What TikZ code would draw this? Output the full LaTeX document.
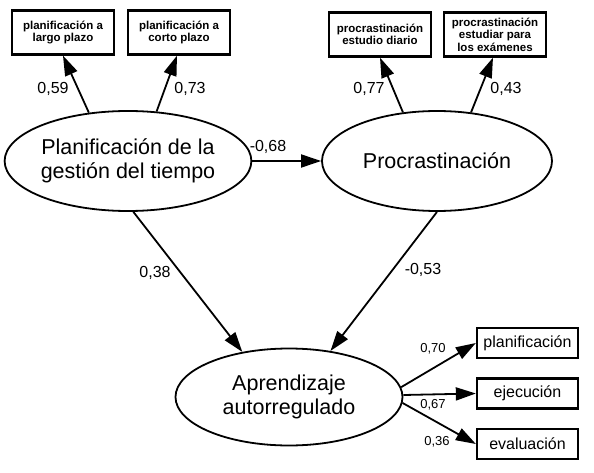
\documentclass[tikz,border=0pt]{standalone}
\usepackage{fontspec}
\setmainfont{Liberation Sans}
\usetikzlibrary{arrows.meta,shapes.geometric}

\begin{document}
\begin{tikzpicture}[x=1pt, y=-1pt,
    latent/.style={ellipse, draw=black, line width=1.8pt, inner sep=0pt,
        align=center, font=\fontsize{21.5}{23.5}\selectfont},
    indicator/.style={rectangle, draw=black, line width=2.3pt, inner sep=0pt,
        minimum width=102pt, minimum height=44pt, align=center,
        font=\fontsize{11.5}{12.5}\selectfont\bfseries},
    subscale/.style={rectangle, draw=black, line width=2.3pt, inner sep=0pt,
        minimum width=101pt, minimum height=30pt, font=\fontsize{16}{18}\selectfont},
    loading/.style={inner sep=0pt, font=\fontsize{16}{18}\selectfont},
    smallloading/.style={inner sep=0pt, font=\fontsize{13}{15}\selectfont},
    effect/.style={-{Triangle[length=20pt, width=13pt]}, line width=1.8pt}
    ]
    \useasboundingbox (0,0) rectangle (594,473);

    % latent factors
    \node (PGT) [latent, minimum width=232pt, minimum height=100pt] at (128,161)
        {Planificación de la\\gestión del tiempo};
    \node (PRO) [latent, minimum width=230pt, minimum height=100pt] at (437,161)
        {Procrastinación};
    \node (ARA) [latent, minimum width=227pt, minimum height=97pt] at (289,397)
        {Aprendizaje\\autorregulado};

    % indicators
    \node (LP) [indicator] at (63,32.5) {planificación a\\largo plazo};
    \node (CP) [indicator] at (179,32.5) {planificación a\\corto plazo};
    \node (ED) [indicator] at (380,34.5) {procrastinación\\estudio diario};
    \node (EE) [indicator] at (495,34.5) {procrastinación\\estudiar para\\los exámenes};
    \node (PLA) [subscale] at (527.5,343) {planificación};
    \node (EJE) [subscale] at (527.5,393.5) {ejecución};
    \node (EVA) [subscale] at (527.5,444) {evaluación};

    % paths
    \draw [effect] (PGT.129) -- (LP.south);
    \draw [effect] (PGT.60) -- (CP.-95);
    \draw [effect] (PRO.125) -- (ED.south);
    \draw [effect] (PRO.55) -- (EE.-95);
    \draw [effect] (PGT.east) -- (PRO.west);
    \draw [effect] (PGT.-84) -- (ARA.136);
    \draw [effect] (PRO.south) -- (ARA.48);
    \draw [effect] (ARA.5) -- (PLA.west);
    \draw [effect] (ARA.1) -- (EJE.west);
    \draw [effect] (ARA.-3.5) -- (EVA.west);

    % loadings
    \node (L59) [loading] at (53,89) {0,59};
    \node (L73) [loading] at (190,89) {0,73};
    \node (L68) [loading] at (268,147) {-0,68};
    \node (L77) [loading] at (369,89) {0,77};
    \node (L43) [loading] at (506,89) {0,43};
    \node (L38) [loading] at (155,273) {0,38};
    \node (L53) [loading] at (423,270) {-0,53};
    \node (L70) [smallloading] at (433,349) {0,70};
    \node (L67) [smallloading] at (433,405) {0,67};
    \node (L36) [smallloading] at (437,442) {0,36};
\end{tikzpicture}
\end{document}
